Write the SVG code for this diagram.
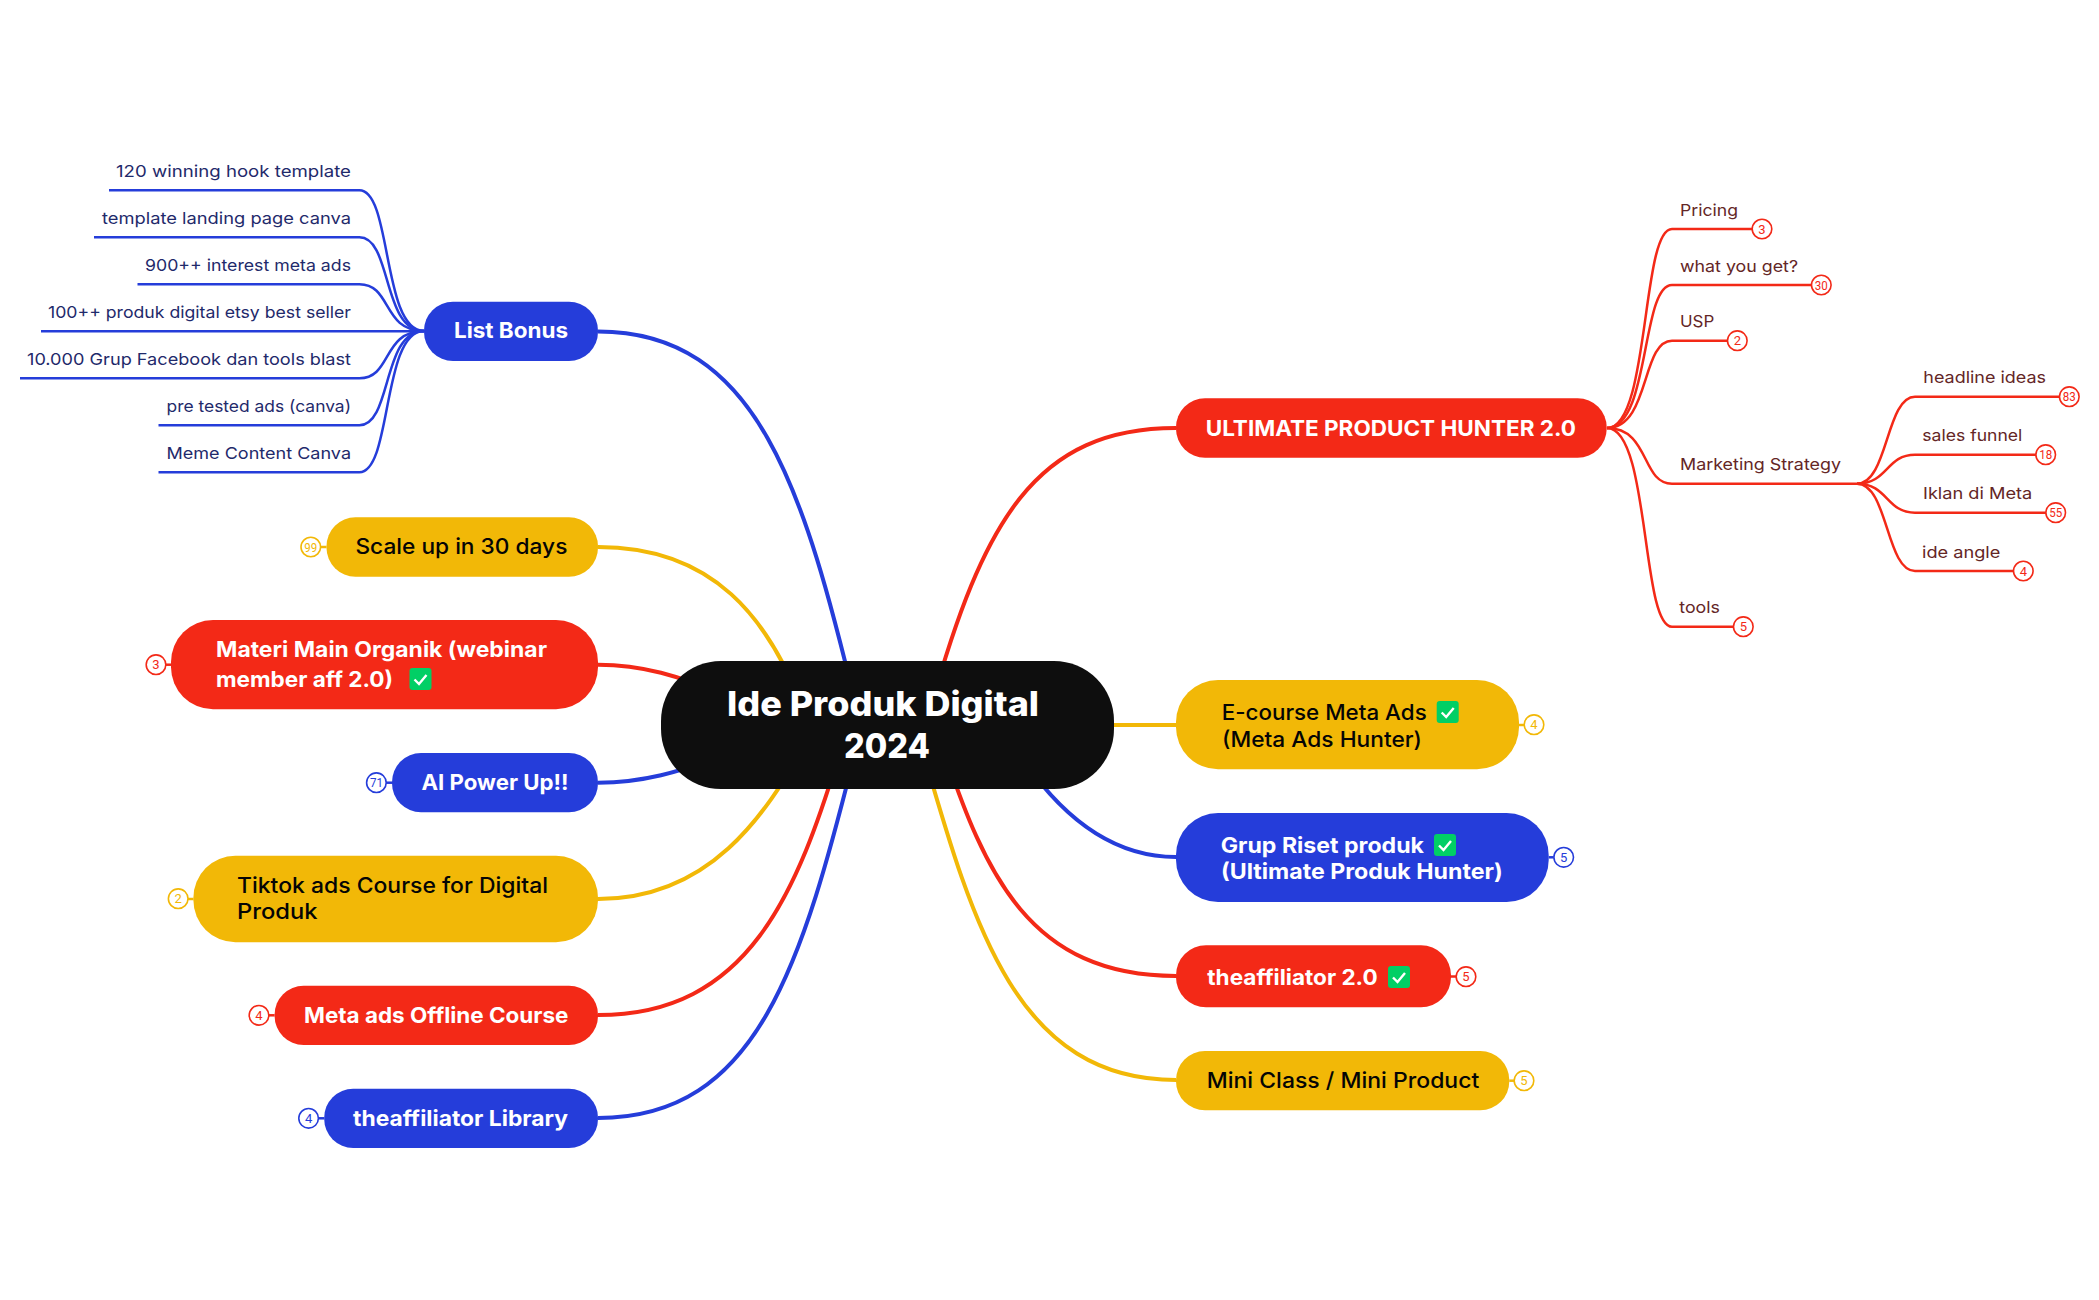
<svg xmlns="http://www.w3.org/2000/svg" width="2099" height="1300" viewBox="0 0 2099 1300">
<style>
text{font-family:"Inter","Liberation Sans",sans-serif}
.w{fill:#fff;font-size:21.5px;font-weight:700}
.k{fill:#050505;font-size:21.5px;font-weight:500}
.root{fill:#fff;font-size:34px;font-weight:800}
.lb{fill:#1f2a6b;font-size:16.5px;font-weight:400}
.lr{fill:#642626;font-size:16.5px;font-weight:400}
.main{fill:none;stroke-width:4;stroke-linecap:butt}
.sub{fill:none;stroke-width:2.5}
.r{stroke:#F32917}.b{stroke:#253DDA}.y{stroke:#F2B807}
.fr{fill:#F32917}.fb{fill:#253DDA}.fy{fill:#F2B807}
.bdg{fill:#fff;stroke-width:1.6}
.n{font-size:13px;text-anchor:middle;font-family:"Roboto","Liberation Sans",sans-serif}
.ck{fill:#01CF65}
.cm{fill:none;stroke:#fff;stroke-width:2.4}
</style>
<defs>
<g id="check"><rect class="ck" width="22" height="22" rx="3"/><path class="cm" d="M5 11.500L9.500 16L17 7"/></g>
</defs>
<g id="connectors">
<path class="main b" d="M598 331.500C758 331.500 804 490 857 710"/>
<path class="main y" d="M598 547C715 547 768 620 802 705"/>
<path class="main r" d="M598 664.700C640 664.700 680 675 730 698"/>
<path class="main b" d="M598 782.700C640 782.700 680 773 730 752"/>
<path class="main y" d="M598 899C710 899 765 815 805 745"/>
<path class="main r" d="M598 1015C748 1015 797 895 842 745"/>
<path class="main b" d="M598 1118C758 1118 802 965 857 745"/>
<path class="main r" d="M1176 428C1036 428 983 520 930 710"/>
<path class="main y" d="M1100 725H1176"/>
<path class="main b" d="M1176 857C1110 857 1060 815 1020 755"/>
<path class="main r" d="M1176 976C1030 976 985 875 942 745"/>
<path class="main y" d="M1176 1080C1016 1080 973 925 921 745"/>
<g class="sub b">
<path d="M424 331C382 331 392 190.300 359.400 190.300H109"/>
<path d="M424 331C382 331 392 237.300 359.400 237.300H94"/>
<path d="M424 331C382 331 392 284.300 359.400 284.300H137.500"/>
<path d="M424 331.300H41"/>
<path d="M424 331C382 331 392 378.300 359.400 378.300H20"/>
<path d="M424 331C382 331 392 425.300 359.400 425.300H158.500"/>
<path d="M424 331C382 331 392 472.300 359.400 472.300H158.500"/>
</g>
<g class="sub r">
<path d="M1607 428C1650 428 1641 229 1672 229H1752"/>
<path d="M1607 428C1650 428 1641 285 1672 285H1812"/>
<path d="M1607 428C1650 428 1641 340.700 1672 340.700H1727"/>
<path d="M1607 428C1650 428 1641 483.700 1672 483.700H1857"/>
<path d="M1607 428C1650 428 1641 626.700 1672 626.700H1733"/>
<path d="M1857 483.700C1888 483.700 1886 396.700 1915 396.700H2059"/>
<path d="M1857 483.700C1888 483.700 1886 454.700 1915 454.700H2036"/>
<path d="M1857 483.700C1888 483.700 1886 512.700 1915 512.700H2046"/>
<path d="M1857 483.700C1888 483.700 1886 571 1915 571H2013"/>
</g>
<g class="sub">
<path class="y" d="M321 547H326.500"/>
<path class="r" d="M166 664.700H171"/>
<path class="b" d="M386 782.700H392"/>
<path class="y" d="M188 899H193.500"/>
<path class="r" d="M269 1015.300H274.600"/>
<path class="b" d="M318.600 1118.300H324.200"/>
<path class="y" d="M1519 725H1524"/>
<path class="b" d="M1548.700 857.300H1553.700"/>
<path class="r" d="M1451 976.500H1456"/>
<path class="y" d="M1509.300 1080.700H1514"/>
</g>
</g>

<g id="root"><rect x="661" y="661" width="453" height="128" rx="60" fill="#0E0E0E"/>
<text class="root" x="727" y="715.700" textLength="312" lengthAdjust="spacingAndGlyphs">Ide Produk Digital</text>
<text class="root" x="844" y="757.700" textLength="86" lengthAdjust="spacingAndGlyphs">2024</text></g>

<g id="list-bonus"><rect class="fb" x="424" y="301.700" width="174" height="59.300" rx="29"/><text class="w" x="454" y="338.300" textLength="114" lengthAdjust="spacingAndGlyphs">List Bonus</text></g>
<g id="scale-up"><rect class="fy" x="326.500" y="517.300" width="271.500" height="59.400" rx="29"/><text class="k" x="355.400" y="554.300" textLength="212" lengthAdjust="spacingAndGlyphs">Scale up in 30 days</text>
<circle class="bdg y" cx="310.800" cy="547" r="9.800"/><text class="n" x="310.800" y="551.500" fill="#F2B807" textLength="13" lengthAdjust="spacingAndGlyphs">99</text></g>
<g id="materi"><rect class="fr" x="171" y="620" width="427" height="89.300" rx="42"/><text class="w" x="216" y="656.700" textLength="331" lengthAdjust="spacingAndGlyphs">Materi Main Organik (webinar</text><text class="w" x="216" y="686.700" textLength="177" lengthAdjust="spacingAndGlyphs">member aff 2.0)</text><use href="#check" x="409.500" y="668"/>
<circle class="bdg r" cx="156" cy="664.700" r="9.800"/><text class="n" x="156" y="669.200" fill="#F32917">3</text></g>
<g id="ai-power"><rect class="fb" x="392" y="753" width="206" height="59.300" rx="29"/><text class="w" x="421.500" y="790" textLength="147" lengthAdjust="spacingAndGlyphs">AI Power Up!!</text>
<circle class="bdg b" cx="376.400" cy="782.700" r="9.800"/><text class="n" x="376.400" y="787.200" fill="#253DDA" textLength="13" lengthAdjust="spacingAndGlyphs">71</text></g>
<g id="tiktok"><rect class="fy" x="193.400" y="855.700" width="404.600" height="86.600" rx="42"/><text class="k" x="237" y="892.700" textLength="311" lengthAdjust="spacingAndGlyphs">Tiktok ads Course for Digital</text><text class="k" x="237" y="919.300" textLength="80.500" lengthAdjust="spacingAndGlyphs">Produk</text>
<circle class="bdg y" cx="178.200" cy="898.700" r="9.800"/><text class="n" x="178.200" y="903.200" fill="#F2B807">2</text></g>
<g id="meta-offline"><rect class="fr" x="274.600" y="985.700" width="323.400" height="59.300" rx="29"/><text class="w" x="304" y="1022.700" textLength="264.400" lengthAdjust="spacingAndGlyphs">Meta ads Offline Course</text>
<circle class="bdg r" cx="259" cy="1015.300" r="9.800"/><text class="n" x="259" y="1019.800" fill="#F32917">4</text></g>
<g id="library"><rect class="fb" x="324.200" y="1088.700" width="273.800" height="59.300" rx="29"/><text class="w" x="353" y="1126" textLength="215" lengthAdjust="spacingAndGlyphs">theaffiliator Library</text>
<circle class="bdg b" cx="308.600" cy="1118.300" r="9.800"/><text class="n" x="308.600" y="1122.800" fill="#253DDA">4</text></g>

<g id="ultimate"><rect class="fr" x="1176" y="398.300" width="430.700" height="59.400" rx="29"/><text class="w" x="1205.700" y="436" textLength="370.300" lengthAdjust="spacingAndGlyphs">ULTIMATE PRODUCT HUNTER 2.0</text></g>
<g id="ecourse"><rect class="fy" x="1176" y="680" width="343" height="89.300" rx="42"/><text class="k" x="1221.700" y="720" textLength="205" lengthAdjust="spacingAndGlyphs">E-course Meta Ads</text><text class="k" x="1222" y="746.700" textLength="200" lengthAdjust="spacingAndGlyphs">(Meta Ads Hunter)</text><use href="#check" x="1436.700" y="701"/>
<circle class="bdg y" cx="1534" cy="724.700" r="9.800"/><text class="n" x="1534" y="729.200" fill="#F2B807">4</text></g>
<g id="grup-riset"><rect class="fb" x="1176" y="813" width="372.700" height="89" rx="42"/><text class="w" x="1220.700" y="852.700" textLength="203.300" lengthAdjust="spacingAndGlyphs">Grup Riset produk</text><text class="w" x="1221" y="879.300" textLength="281.700" lengthAdjust="spacingAndGlyphs">(Ultimate Produk Hunter)</text><use href="#check" x="1434" y="834"/>
<circle class="bdg b" cx="1563.700" cy="857.300" r="9.800"/><text class="n" x="1563.700" y="861.800" fill="#253DDA">5</text></g>
<g id="theaffiliator"><rect class="fr" x="1176" y="945.300" width="275" height="62" rx="30"/><text class="w" x="1207.300" y="985" textLength="170.400" lengthAdjust="spacingAndGlyphs">theaffiliator 2.0</text><use href="#check" x="1388" y="966"/>
<circle class="bdg r" cx="1466" cy="976.700" r="9.800"/><text class="n" x="1466" y="981.200" fill="#F32917">5</text></g>
<g id="mini-class"><rect class="fy" x="1176" y="1051" width="333.300" height="59.300" rx="29"/><text class="k" x="1206.700" y="1088.300" textLength="272.600" lengthAdjust="spacingAndGlyphs">Mini Class / Mini Product</text>
<circle class="bdg y" cx="1524" cy="1080.700" r="9.800"/><text class="n" x="1524" y="1085.200" fill="#F2B807">5</text></g>

<g id="bonus-1"><text class="lb" x="116" y="176.700" textLength="235" lengthAdjust="spacingAndGlyphs">120 winning hook template</text></g>
<g id="bonus-2"><text class="lb" x="102" y="224" textLength="249" lengthAdjust="spacingAndGlyphs">template landing page canva</text></g>
<g id="bonus-3"><text class="lb" x="145" y="271" textLength="206" lengthAdjust="spacingAndGlyphs">900++ interest meta ads</text></g>
<g id="bonus-4"><text class="lb" x="48" y="318" textLength="303" lengthAdjust="spacingAndGlyphs">100++ produk digital etsy best seller</text></g>
<g id="bonus-5"><text class="lb" x="27" y="365" textLength="324" lengthAdjust="spacingAndGlyphs">10.000 Grup Facebook dan tools blast</text></g>
<g id="bonus-6"><text class="lb" x="166.500" y="412" textLength="184.500" lengthAdjust="spacingAndGlyphs">pre tested ads (canva)</text></g>
<g id="bonus-7"><text class="lb" x="166.500" y="459" textLength="184.500" lengthAdjust="spacingAndGlyphs">Meme Content Canva</text></g>

<g id="pricing"><text class="lr" x="1680" y="216" textLength="58" lengthAdjust="spacingAndGlyphs">Pricing</text><circle class="bdg r" cx="1762" cy="229" r="9.800"/><text class="n" x="1762" y="233.500" fill="#F32917">3</text></g>
<g id="what-you-get"><text class="lr" x="1680" y="271.700" textLength="118" lengthAdjust="spacingAndGlyphs">what you get?</text><circle class="bdg r" cx="1821.300" cy="285" r="9.800"/><text class="n" x="1821.300" y="289.500" fill="#F32917" textLength="13" lengthAdjust="spacingAndGlyphs">30</text></g>
<g id="usp"><text class="lr" x="1680" y="326.700" textLength="34.300" lengthAdjust="spacingAndGlyphs">USP</text><circle class="bdg r" cx="1737.300" cy="340.700" r="9.800"/><text class="n" x="1737.300" y="345.200" fill="#F32917">2</text></g>
<g id="marketing"><text class="lr" x="1680" y="470" textLength="161" lengthAdjust="spacingAndGlyphs">Marketing Strategy</text></g>
<g id="tools"><text class="lr" x="1679.300" y="613.300" textLength="40.700" lengthAdjust="spacingAndGlyphs">tools</text><circle class="bdg r" cx="1743.300" cy="626.700" r="9.800"/><text class="n" x="1743.300" y="631.200" fill="#F32917">5</text></g>
<g id="headline"><text class="lr" x="1923.300" y="383.300" textLength="122.700" lengthAdjust="spacingAndGlyphs">headline ideas</text><circle class="bdg r" cx="2069.300" cy="396.700" r="9.800"/><text class="n" x="2069.300" y="401.200" fill="#F32917" textLength="13" lengthAdjust="spacingAndGlyphs">83</text></g>
<g id="sales-funnel"><text class="lr" x="1922.300" y="441.300" textLength="100" lengthAdjust="spacingAndGlyphs">sales funnel</text><circle class="bdg r" cx="2045.700" cy="454.700" r="9.800"/><text class="n" x="2045.700" y="459.200" fill="#F32917" textLength="13" lengthAdjust="spacingAndGlyphs">18</text></g>
<g id="iklan"><text class="lr" x="1923" y="499.300" textLength="109.300" lengthAdjust="spacingAndGlyphs">Iklan di Meta</text><circle class="bdg r" cx="2055.700" cy="512.700" r="9.800"/><text class="n" x="2055.700" y="517.200" fill="#F32917" textLength="13" lengthAdjust="spacingAndGlyphs">55</text></g>
<g id="ide-angle"><text class="lr" x="1922" y="558" textLength="78.300" lengthAdjust="spacingAndGlyphs">ide angle</text><circle class="bdg r" cx="2023.300" cy="571" r="9.800"/><text class="n" x="2023.300" y="575.500" fill="#F32917">4</text></g>
</svg>
